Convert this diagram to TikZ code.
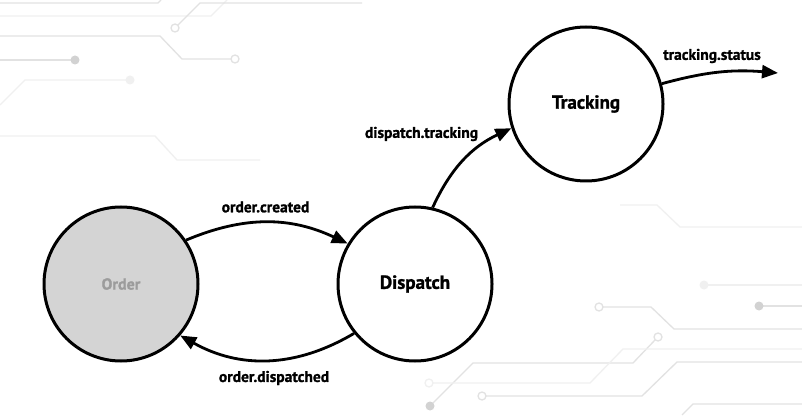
\documentclass[tikz,border=0pt]{standalone}
\usepackage{fontspec}
\setmainfont{PT Sans}[BoldFeatures={FakeBold=1.2}]
\usetikzlibrary{arrows.meta}
\definecolor{circ}{HTML}{E2E2E2}
\definecolor{circfaint}{HTML}{F0F0F0}
\definecolor{dotc}{HTML}{D2D2D2}
\definecolor{orderfill}{HTML}{D4D4D4}
\definecolor{ordertext}{HTML}{9C9C9C}
\tikzset{
  state/.style={circle, draw=black, line width=3pt, fill=white, minimum size=154pt, inner sep=0pt, font=\bfseries\fontsize{19}{22}\selectfont},
  arr/.style={line width=2.8pt, -{Triangle[length=16pt,width=13pt]}},
  lbl/.style={font=\bfseries\fontsize{15.5}{18}\selectfont, inner sep=0pt},
  trace/.style={circ, line width=1.3pt},
  tracefaint/.style={circfaint, line width=1.3pt},
  ring/.style={draw=circ, line width=1.3pt, fill=white},
  ringfaint/.style={draw=circfaint, line width=1.3pt, fill=white},
  blob/.style={fill=dotc},
  blobfaint/.style={fill=circfaint}
}
\begin{document}
\begin{tikzpicture}[x=1pt,y=1pt]
\useasboundingbox (0,0) rectangle (802,415);
\fill[white] (0,0) rectangle (802,415);
% background circuit traces, top left
\draw[trace] (0,412) -- (158,412) -- (161,415);
\draw[tracefaint] (0,399) -- (211,399) -- (227,415);
\draw[trace] (178,390) -- (200,412) -- (362,412);
\draw[ring] (175,387) circle (4);
\draw[trace] (0,379) -- (160,379) -- (182,356) -- (231,356);
\draw[ring] (235,356) circle (4);
\draw[trace] (0,355) -- (75,355);
\fill[blob] (75,355) circle (4.5);
\draw[tracefaint] (0,310) -- (25,335) -- (130,335);
\fill[blobfaint] (130,335) circle (4.5);
\draw[tracefaint] (0,279) -- (155,279) -- (177,255) -- (260,255);
% background circuit traces, bottom right
\draw[tracefaint] (620,210) -- (657,210) -- (680,188) -- (802,188);
\draw[tracefaint] (704,130) -- (802,130);
\fill[blobfaint] (704,130) circle (4.5);
\draw[trace] (759,109) -- (802,109);
\fill[blob] (759,109) circle (4.5);
\draw[trace] (603,108) -- (651,108) -- (674,86) -- (802,86);
\draw[ring] (599,108) circle (4);
\draw[trace] (655,75) -- (633,52) -- (473,52) -- (430,9);
\draw[ring] (658,78) circle (4);
\fill[blob] (430,9) circle (4.5);
\draw[trace] (802,53) -- (677,53) -- (642,19) -- (486,19);
\draw[ring] (482,19) circle (4);
\draw[tracefaint] (802,66) -- (623,66) -- (590,32) -- (433,32);
\draw[ringfaint] (429,32) circle (4);
\draw[trace] (802,11) -- (693,11) -- (682,0);
% states
\node[state, fill=orderfill, text=ordertext, font=\bfseries\fontsize{16}{19}\selectfont] (o) at (121,131) {Order};
\node[state] (d) at (415,131) {Dispatch};
\node[state] (t) at (586,311) {Tracking};
\coordinate (out) at (778,342);
% transitions
\draw[arr] (o.34) to[bend left=24] (d.149);
\draw[arr] (d.219) to[bend left=30] (o.319);
\draw[arr] (d.77) to[bend left=20] (t.198);
\draw[arr] (t.15) to[bend left=10] (out);
% labels
\node[lbl] (l1) at (265.5,208) {order.created};
\node[lbl] (l2) at (274,37) {order.dispatched};
\node[lbl] (l3) at (421.5,281) {dispatch.tracking};
\node[lbl] (l4) at (712,359) {tracking.status};
\end{tikzpicture}
\end{document}
